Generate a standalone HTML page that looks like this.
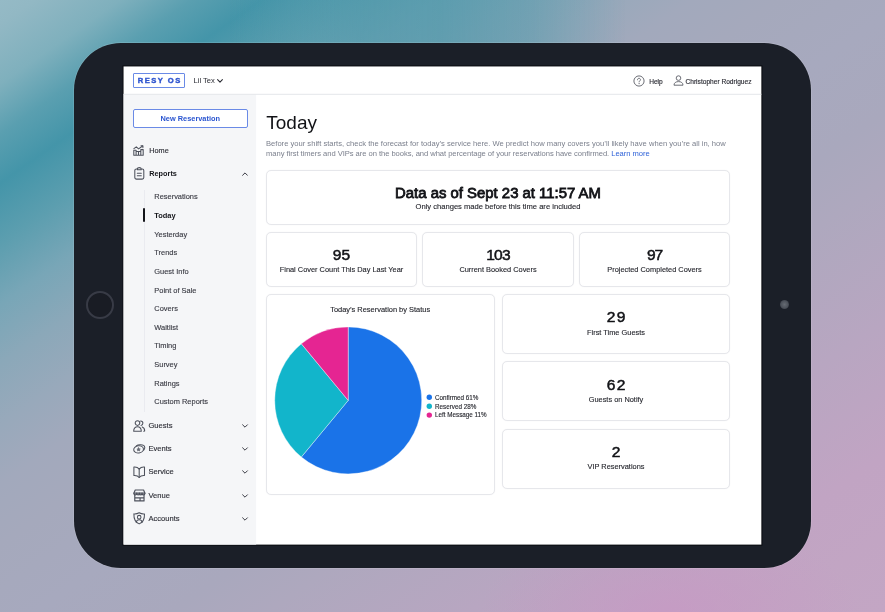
<!DOCTYPE html>
<html lang="en">
<head>
<meta charset="utf-8">
<title>Resy OS - Today</title>
<style>
*{box-sizing:border-box;margin:0;padding:0}
html,body{width:885px;height:612px;overflow:hidden}
body{font-family:"Liberation Sans",sans-serif;position:relative;color:#1a1a1f;
background:
 radial-gradient(ellipse 190px 90px at 670px 612px, rgba(200,150,196,.6), rgba(200,150,196,0) 100%),
 linear-gradient(145deg,#95bac6 0px,#92b8c4 20px,#7fb0bd 69px,#5a9fb0 110px,#4495a9 150px,#5c9eaf 200px,#78a6b7 249px,#8ba8b9 298px,#98a9bb 348px,#a2a9bc 397px,#a5a9bc 446px,#a7a9be 521px,#a9a8bd 600px,#aea8be 655px,#b8a6c1 770px,#c1a4c3 880px,#c3a6c4 1009px);
}
#topfix{position:absolute;left:0;top:0;width:885px;height:75px;background:linear-gradient(90deg,rgba(77,152,170,0) 230px,rgba(77,152,170,.3) 300px,rgba(77,152,170,.6) 360px,rgba(77,152,170,.66) 440px,rgba(77,152,170,.45) 530px,rgba(77,152,170,.21) 580px,rgba(77,152,170,0) 625px);-webkit-mask-image:linear-gradient(to bottom,#000 45px,transparent 75px);mask-image:linear-gradient(to bottom,#000 45px,transparent 75px)}
.abs{position:absolute}
.t{position:absolute;white-space:nowrap}
#tablet{position:absolute;left:74px;top:43px;width:737px;height:524.5px;border-radius:47px;background:#1b1f28;box-shadow:0 0 0 .7px rgba(255,255,255,.16)}
#homebtn{position:absolute;left:85.6px;top:290.7px;width:28px;height:28px;border-radius:50%;border:2px solid #383b46;background:#191c24}
#cam{position:absolute;left:780.4px;top:299.6px;width:9px;height:9px;border-radius:50%;background:radial-gradient(circle,#666b73 0,#4d525b 55%,#2a2e37 100%)}
#bg{position:absolute;left:0;top:0}
#scr{position:absolute;left:123px;top:66px;width:640px;height:480px;filter:blur(.3px);will-change:transform;transform:translateZ(0)}
#logo{position:absolute;left:10px;top:7px;width:52px;height:15px;border:1px solid #6a8ae6;border-radius:1px;color:#2f55cf;font-weight:bold;font-size:7.6px;letter-spacing:1.5px;line-height:13px;text-align:center;padding-left:1.5px;-webkit-text-stroke:.4px #2f55cf}
#newres{position:absolute;left:10px;top:43px;width:114.5px;height:18.5px;border:1px solid #6a8ae6;border-radius:2px;background:#fff;color:#2a55d0;font-weight:bold;font-size:7.4px;line-height:17.5px;text-align:center}
.nav{font-size:7.3px;color:#2f3038;line-height:10px;height:10px;-webkit-text-stroke:.15px #2f3038}
.nb{font-size:7.55px}
.sub{font-size:7.45px;color:#383942;line-height:10px;height:10px;left:31.3px;-webkit-text-stroke:.12px #383942}
.b{font-weight:bold;color:#15161b;-webkit-text-stroke:0}
.ico{position:absolute;overflow:visible}
.card{position:absolute;background:#fff;border:1px solid #e6e7eb;border-radius:5px;box-shadow:0 0 1px rgba(20,30,50,.08)}
.num{position:absolute;left:0;width:100%;text-align:center;font-size:15.6px;line-height:16px;height:16px;color:#111216;-webkit-text-stroke:.5px #111216}
.lbl{position:absolute;left:0;width:100%;text-align:center;font-size:7.4px;line-height:10px;height:10px;color:#26272e;-webkit-text-stroke:.12px #26272e}
</style>
</head>
<body>
<div id="topfix"></div>
<div id="tablet"></div>
<div id="homebtn"></div>
<div id="cam"></div>
<svg id="bg" width="885" height="612" viewBox="0 0 885 612">
<rect x="122.500" y="65.400" width="640" height="480.300" fill="#0b0d12"/>
<rect x="123.550" y="66.450" width="637.800" height="478.150" fill="#fff"/>
<rect x="123.550" y="94.300" width="132.550" height="450.300" fill="#f5f6f8"/>
<rect x="123.550" y="93.800" width="637.800" height="1" fill="#e4e6ea"/>
</svg>
<div id="scr">
  <div id="logo">RESY OS</div>
  <div class="t" style="left:70.5px;top:10.1px;font-size:7.6px;line-height:10px;color:#2a2b33">Lil Tex</div>
  <svg class="ico" style="left:94.1px;top:12.8px" width="6" height="4" viewBox="0 0 6 4"><path d="M.6.7 3 3.1 5.4.7" fill="none" stroke="#2a2b33" stroke-width="1.1" stroke-linecap="round" stroke-linejoin="round"/></svg>
  <svg class="ico" style="left:509.5px;top:9px" width="12" height="12" viewBox="0 0 12 12"><circle cx="6" cy="6" r="5.1" fill="none" stroke="#5b5d66" stroke-width=".9"/><path d="M4.5 4.8c0-.9.7-1.5 1.5-1.5s1.5.6 1.5 1.4c0 1-1.400 1.100-1.400 2.200" fill="none" stroke="#5b5d66" stroke-width=".9" stroke-linecap="round"/><circle cx="6.100" cy="8.600" r=".6" fill="#5b5d66"/></svg>
  <div class="t" style="left:526.2px;top:10.5px;font-size:6.6px;line-height:10px;color:#2c2d35;-webkit-text-stroke:.15px #2c2d35">Help</div>
  <svg class="ico" style="left:549.5px;top:9px" width="11" height="11" viewBox="0 0 11 11"><circle cx="5.5" cy="3.100" r="2.300" fill="none" stroke="#5b5d66" stroke-width=".9"/><path d="M1 10.200c0-2.400 1.900-3.600 4.500-3.600s4.500 1.200 4.500 3.600z" fill="none" stroke="#5b5d66" stroke-width=".9" stroke-linejoin="round"/></svg>
  <div class="t" style="left:562.5px;top:10.5px;font-size:6.6px;line-height:10px;color:#2c2d35;-webkit-text-stroke:.15px #2c2d35">Christopher Rodriguez</div>
  <div id="newres">New Reservation</div>
  <div class="t nav" style="left:26.3px;top:79.8px">Home</div>
  <div class="t nav b" style="left:26.3px;top:103px">Reports</div>
  <svg class="ico" style="left:118.5px;top:105.5px" width="6" height="4" viewBox="0 0 6 4"><path d="M.6 3.300 3 .900 5.400 3.300" fill="none" stroke="#3a3b44" stroke-width="1" stroke-linecap="round" stroke-linejoin="round"/></svg>
  <div class="abs" style="left:20.5px;top:123.5px;width:1.3px;height:222px;background:#eaebf0"></div>
  <div class="abs" style="left:19.7px;top:142.2px;width:2.600px;height:14.200px;background:#14151a;border-radius:1.3px"></div>
  <div class="t sub" style="top:126.3px">Reservations</div>
  <div class="t sub b" style="top:144.94px">Today</div>
  <div class="t sub" style="top:163.58px">Yesterday</div>
  <div class="t sub" style="top:182.22px">Trends</div>
  <div class="t sub" style="top:200.86px">Guest Info</div>
  <div class="t sub" style="top:219.5px">Point of Sale</div>
  <div class="t sub" style="top:238.14px">Covers</div>
  <div class="t sub" style="top:256.78px">Waitlist</div>
  <div class="t sub" style="top:275.42px">Timing</div>
  <div class="t sub" style="top:294.06px">Survey</div>
  <div class="t sub" style="top:312.7px">Ratings</div>
  <div class="t sub" style="top:331.34px">Custom Reports</div>
  <div class="t nav nb" style="left:25.5px;top:354.7px">Guests</div>
  <div class="t nav nb" style="left:25.5px;top:378px">Events</div>
  <div class="t nav nb" style="left:25.5px;top:401.3px">Service</div>
  <div class="t nav nb" style="left:25.5px;top:424.7px">Venue</div>
  <div class="t nav nb" style="left:25.5px;top:448px">Accounts</div>
  <svg class="ico" style="left:10.3px;top:78.5px" width="11" height="11" viewBox="0 0 11 11"><g fill="none" stroke="#4d515c" stroke-width="1.05" stroke-linecap="round" stroke-linejoin="round"><path d="M.8 10.2V5.2h2.300v5M3.100 10.200V6.400h2.400v3.800M5.500 10.200V6.400h2.300M7.800 10.200V4.600h2.400v5.600zM.8 10.200h9.400"/><path d="M.9 3.600 3.300 1.900 5.600 3.900 9.600 1"/><path d="M8 .7h1.900v1.900"/></g></svg>
  <svg class="ico" style="left:10.6px;top:101.2px" width="11" height="13" viewBox="0 0 11 13"><g fill="none" stroke="#4d515c" stroke-width="1.05" stroke-linecap="round" stroke-linejoin="round"><rect x=".8" y="1.900" width="9" height="10.200" rx="1.600"/><path d="M3.400 1.900c0-.8.6-1.300 1.900-1.300s1.900.5 1.900 1.300v.9H3.400z" fill="#f5f6f8"/><path d="M3.300 6.300h4M3.300 8.700h4"/></g></svg>
  <svg class="ico" style="left:9.7px;top:353.6px" width="12.4" height="12" viewBox="0 0 12.4 12"><g fill="none" stroke="#4d515c" stroke-width="1.05" stroke-linecap="round" stroke-linejoin="round"><circle cx="4.5" cy="3.100" r="2.300"/><path d="M.7 11.300c0-2.900 1.500-4.500 3.800-4.500s3.800 1.600 3.800 4.500z"/><path d="M7.600 .9c1.400 0 2.300 .9 2.300 2.200 0 1.200-.8 2.100-1.900 2.300M9.200 6.900c1.600 .5 2.500 2 2.500 4.200l-.9.200"/></g></svg>
  <svg class="ico" style="left:9.5px;top:377.5px" width="12.4" height="10" viewBox="0 0 12.4 10"><g fill="none" stroke="#4d515c" stroke-width="1.05" stroke-linecap="round" stroke-linejoin="round"><ellipse cx="5.6" cy="5.400" rx="4.900" ry="3.600" transform="rotate(-8 5.6 5.4)"/><path d="M3.400 1.800C5 .6 8.800 .3 10.600 1.400c1.500 .9 1.600 3.200 .1 4.700"/><path d="M5.600 3.700l.55 1.100 1.200 .18-.87 .85 .2 1.200-1.080-.57-1.080 .57 .2-1.200-.87-.85 1.200-.18z" stroke-width=".5" fill="#6b6f7a"/></g></svg>
  <svg class="ico" style="left:9.6px;top:399.6px" width="12.4" height="12.4" viewBox="0 0 12.4 12.4"><g fill="none" stroke="#4d515c" stroke-width="1.05" stroke-linecap="round" stroke-linejoin="round"><path d="M6.200 3.100C5 1.500 3.200 .9 .9 1.100v8.400c2.300-.2 4.100 .4 5.300 2 1.200-1.600 3-2.200 5.300-2V1.100C9.200 .9 7.400 1.500 6.200 3.100z"/><path d="M6.200 3.100v8.400"/></g></svg>
  <svg class="ico" style="left:9.6px;top:422.7px" width="12.8" height="12.8" viewBox="0 0 11.6 11.6"><g fill="none" stroke="#4d515c" stroke-width="1.05" stroke-linecap="round" stroke-linejoin="round"><path d="M2 .9h7.600l1.200 2.900c0 .9-.6 1.500-1.300 1.500s-1.300-.6-1.300-1.500c0 .9-.6 1.500-1.200 1.500s-1.200-.6-1.200-1.500c0 .9-.6 1.500-1.200 1.500s-1.200-.6-1.200-1.500c0 .9-.6 1.500-1.300 1.500S.8 4.700 .8 3.800z"/><path d="M.8 3.800h10M1.600 5.500v5.300h8.400V5.500M1.600 8.100h8.400M6.400 8.100v2.700"/></g></svg>
  <svg class="ico" style="left:9.6px;top:446.3px" width="12.4" height="12.6" viewBox="0 0 12.4 12.6"><g fill="none" stroke="#4d515c" stroke-width="1.05" stroke-linecap="round" stroke-linejoin="round"><path d="M6.200 .8C4.600 1.700 2.800 2 .9 1.900c-.2 5.100 1.500 8.300 5.300 10 3.800-1.700 5.500-4.900 5.300-10C9.600 2 7.800 1.700 6.200 .8z"/><circle cx="6.200" cy="5.200" r="1.800"/><path d="M3.200 10.300c.3-1.700 1.400-2.600 3-2.600s2.700 .9 3 2.600"/></g></svg>
  <svg class="ico" style="left:118.5px;top:357.6px" width="6" height="4" viewBox="0 0 6 4"><path d="M.6.8 3 3.200 5.400.8" fill="none" stroke="#3a3b44" stroke-width="1" stroke-linecap="round" stroke-linejoin="round"/></svg>
  <svg class="ico" style="left:118.5px;top:380.9px" width="6" height="4" viewBox="0 0 6 4"><path d="M.6.8 3 3.200 5.400.8" fill="none" stroke="#3a3b44" stroke-width="1" stroke-linecap="round" stroke-linejoin="round"/></svg>
  <svg class="ico" style="left:118.5px;top:404.3px" width="6" height="4" viewBox="0 0 6 4"><path d="M.6.8 3 3.200 5.400.8" fill="none" stroke="#3a3b44" stroke-width="1" stroke-linecap="round" stroke-linejoin="round"/></svg>
  <svg class="ico" style="left:118.5px;top:427.6px" width="6" height="4" viewBox="0 0 6 4"><path d="M.6.8 3 3.200 5.400.8" fill="none" stroke="#3a3b44" stroke-width="1" stroke-linecap="round" stroke-linejoin="round"/></svg>
  <svg class="ico" style="left:118.5px;top:450.9px" width="6" height="4" viewBox="0 0 6 4"><path d="M.6.8 3 3.200 5.400.8" fill="none" stroke="#3a3b44" stroke-width="1" stroke-linecap="round" stroke-linejoin="round"/></svg>
  <div class="t" style="left:143.3px;top:46px;font-size:19px;line-height:22px;color:#111216">Today</div>
  <div class="t" style="left:143px;top:72.6px;font-size:7.6px;line-height:10px;color:#7a7f8c">Before your shift starts, check the forecast for today’s service here. We predict how many covers you’ll likely have when you’re all in, how</div>
  <div class="t" style="left:143px;top:82.6px;font-size:7.6px;line-height:10px;color:#7a7f8c;letter-spacing:-.042px">many first timers and VIPs are on the books, and what percentage of your reservations have confirmed. <span style="color:#2f62d8">Learn more</span></div>
  <div class="card" style="left:143px;top:104px;width:464px;height:55px"><div class="num" style="top:13.0px;font-size:14.9px;line-height:18px;height:18px;-webkit-text-stroke:.8px #111216">Data as of Sept 23 at 11:57 AM</div><div class="lbl" style="top:31.2px;font-size:7.6px">Only changes made before this time are included</div></div>
  <div class="card" style="left:143px;top:166px;width:151px;height:55px"><div class="num" style="top:14.2px;font-size:14.7px;letter-spacing:0px;padding-left:0px;transform:scaleX(1.06)">95</div><div class="lbl" style="top:31.5px">Final Cover Count This Day Last Year</div></div>
  <div class="card" style="left:299px;top:166px;width:152px;height:55px"><div class="num" style="top:14.2px;font-size:14.7px;letter-spacing:-0.8px;padding-left:-0.8px;transform:scaleX(1.06)">103</div><div class="lbl" style="top:31.5px">Current Booked Covers</div></div>
  <div class="card" style="left:456px;top:166px;width:151px;height:55px"><div class="num" style="top:14.2px;font-size:14.7px;letter-spacing:-1.2px;padding-left:-1.2px;transform:scaleX(1.06)">97</div><div class="lbl" style="top:31.5px">Projected Completed Covers</div></div>
  <div class="card" style="left:379px;top:228px;width:228px;height:60px"><div class="num" style="top:14.2px;font-size:14.7px;letter-spacing:1.3px;padding-left:1.3px;transform:scaleX(1.06)">29</div><div class="lbl" style="top:33.1px">First Time Guests</div></div>
  <div class="card" style="left:379px;top:295px;width:228px;height:60px"><div class="num" style="top:14.5px;font-size:14.7px;letter-spacing:1.3px;padding-left:1.3px;transform:scaleX(1.06)">62</div><div class="lbl" style="top:33.1px">Guests on Notify</div></div>
  <div class="card" style="left:379px;top:363px;width:228px;height:59.5px"><div class="num" style="top:13.7px;font-size:14.7px;letter-spacing:0px;padding-left:0px;transform:scaleX(1.06)">2</div><div class="lbl" style="top:32.1px">VIP Reservations</div></div>
  <div class="card" style="left:143px;top:228px;width:229px;height:201px"><svg class="ico" style="left:0;top:0" width="227" height="199"><path d="M81.20 105.40L81.20 31.90A73.5 73.5 0 1 1 34.35 162.03Z" fill="#1a73e8" stroke="#fff" stroke-opacity=".55" stroke-width=".7" stroke-linejoin="round"/><path d="M81.20 105.40L34.35 162.03A73.5 73.5 0 0 1 34.35 48.77Z" fill="#12b5cb" stroke="#fff" stroke-opacity=".55" stroke-width=".7" stroke-linejoin="round"/><path d="M81.20 105.40L34.35 48.77A73.5 73.5 0 0 1 81.20 31.90Z" fill="#e52592" stroke="#fff" stroke-opacity=".55" stroke-width=".7" stroke-linejoin="round"/><circle cx="162.3" cy="102.2" r="2.7" fill="#1a73e8"/><circle cx="162.3" cy="111.2" r="2.7" fill="#12b5cb"/><circle cx="162.3" cy="120.1" r="2.7" fill="#e52592"/></svg><div class="lbl" style="top:9.9px;left:13.2px;width:200px;font-size:7.45px">Today’s Reservation by Status</div><div class="t" style="left:168.0px;top:97.5px;font-size:6.3px;line-height:10px;color:#26272e;-webkit-text-stroke:.12px #26272e">Confirmed 61%</div><div class="t" style="left:168.0px;top:106.5px;font-size:6.3px;line-height:10px;color:#26272e;-webkit-text-stroke:.12px #26272e">Reserved 28%</div><div class="t" style="left:168.0px;top:115.4px;font-size:6.3px;line-height:10px;color:#26272e;-webkit-text-stroke:.12px #26272e">Left Message 11%</div></div>
</div>
</body>
</html>
